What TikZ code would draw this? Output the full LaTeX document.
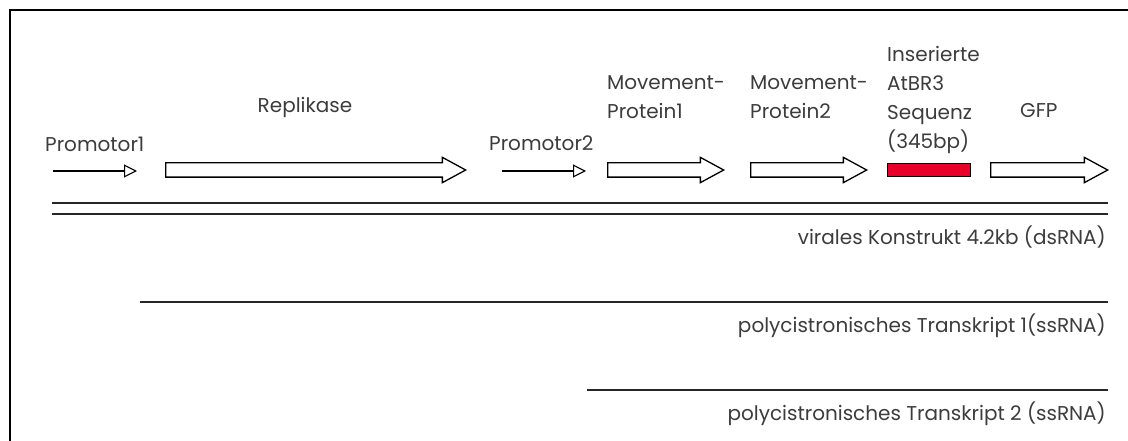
\documentclass[tikz,border=0pt]{standalone}
\usepackage{fontspec}
\setmainfont{Poppins}
\usepackage{tikz}
\usetikzlibrary{shapes.arrows, arrows.meta}
\definecolor{insred}{RGB}{232,0,42}
\definecolor{txtgrey}{RGB}{60,60,60}
\tikzstyle{blk}=[single arrow, draw, line width=1.3pt, single arrow head extend=5.5pt, single arrow head indent=0pt, single arrow tip angle=57, inner xsep=0pt, inner ysep=6.5pt, anchor=west]
\tikzstyle{prom}=[line width=1.1pt, -{Triangle[open, length=13pt, width=13pt]}]
\tikzstyle{lbl}=[inner sep=0pt, text=txtgrey, font=\fontsize{20}{29}\selectfont, align=left]
\tikzstyle{rna}=[line width=2.2pt, draw=black!85]

\begin{document}
\begin{tikzpicture}[x=1pt, y=-1pt]
  \useasboundingbox (0,0) rectangle (1128,441);
  \clip (0,0) rectangle (1128,441);
  \draw[line width=1.5pt] (10,1000) -- (10,10) -- (2000,10);
  % elements
  \coordinate (p1a) at (53,171);
  \coordinate (p1b) at (137,171);
  \draw[prom] (p1a) -- (p1b);
  \node[blk, minimum height=300pt] (repl) at (165,170) {};
  \coordinate (p2a) at (502,171);
  \coordinate (p2b) at (586,171);
  \draw[prom] (p2a) -- (p2b);
  \node[blk, minimum height=116pt] (mp1) at (607,170) {};
  \node[blk, minimum height=116pt] (mp2) at (750,170) {};
  \node[draw, line width=1.3pt, fill=insred, minimum width=83pt, minimum height=13pt, inner sep=0pt, anchor=west] (atbr) at (887,170) {};
  \node[blk, minimum height=117pt] (gfp) at (990,170) {};
  % labels
  \node[lbl, anchor=west] (lp1) at (45,144) {Promotor1};
  \node[lbl] (lrepl) at (305,107) {Replikase};
  \node[lbl, anchor=west] (lp2) at (489,143) {Promotor2};
  \node[lbl, anchor=north west] (lmp1) at (607,75) {Movement-\\Protein1};
  \node[lbl, anchor=north west] (lmp2) at (750,75) {Movement-\\Protein2};
  \node[lbl, anchor=north west] (latbr) at (887,46) {Inserierte\\AtBR3\\Sequenz\\(345bp)};
  \node[lbl, anchor=west] (lgfp) at (1020,111) {GFP};
  % RNA
  \coordinate (ds1l) at (52,203);
  \coordinate (ds1r) at (1108,203);
  \coordinate (ds2l) at (52,214);
  \coordinate (ds2r) at (1108,214);
  \draw[rna] (ds1l) -- (ds1r);
  \draw[rna] (ds2l) -- (ds2r);
  \node[lbl, anchor=east] (lds) at (1106,237) {virales Konstrukt 4.2kb (dsRNA)};
  \coordinate (t1l) at (140,302);
  \coordinate (t1r) at (1108,302);
  \draw[rna] (t1l) -- (t1r);
  \node[lbl, anchor=east] (lt1) at (1106,326) {polycistronisches Transkript 1(ssRNA)};
  \coordinate (t2l) at (587,390);
  \coordinate (t2r) at (1108,390);
  \draw[rna] (t2l) -- (t2r);
  \node[lbl, anchor=east] (lt2) at (1106,414) {polycistronisches Transkript 2 (ssRNA)};
\end{tikzpicture}
\end{document}
